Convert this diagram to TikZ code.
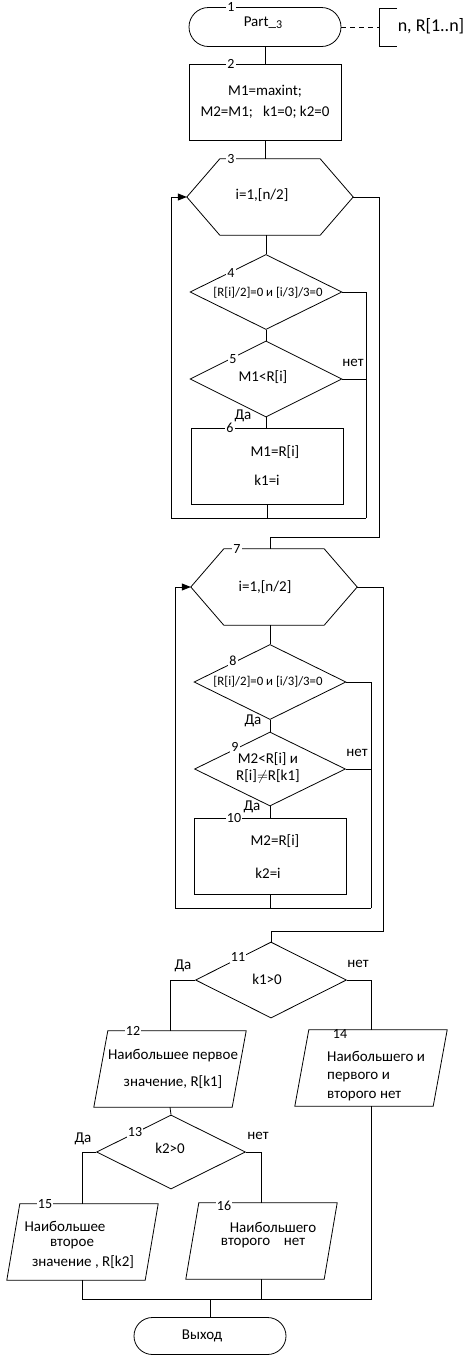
\documentclass[tikz,border=0pt]{standalone}
\usepackage{fontspec}
\setmainfont{Carlito}
\usetikzlibrary{shapes.geometric,shapes.misc,arrows.meta}
\begin{document}
\begin{tikzpicture}[x=1pt,y=-1pt,
  ln/.style={line width=0.8pt},
  shp/.style={draw, line width=0.8pt, inner sep=0pt},
  term/.style={shp, rounded rectangle, minimum width=152pt, minimum height=39pt},
  proc/.style={shp, rectangle, minimum width=152pt, minimum height=76pt},
  dec/.style={shp, diamond, minimum width=152pt, minimum height=75pt},
  helper/.style={inner sep=0pt, minimum width=166pt, minimum height=76pt},
  pbox/.style={inner sep=0pt, minimum width=152pt, minimum height=76pt},
  num/.style={fill=white, inner sep=1pt, font=\fontsize{14}{14}\selectfont},
  txt/.style={inner sep=0pt, font=\fontsize{15}{18}\selectfont},
  small/.style={inner sep=0pt, font=\fontsize{12.8}{14}\selectfont},
  arr/.style={line width=0.8pt, -{Triangle[length=9pt,width=7pt]}}
]
\useasboundingbox (0,0) rectangle (473,1369);

% ---- block 1: start
\node[term] (t1) at (265,27) {};
\node[txt] (t1t) at (263,23) {Part\_\raisebox{-2pt}{\fontsize{12}{12}\selectfont 3}};
\node[num] (n1) at (231,7) {1};
\coordinate (brk) at (379,27);
\draw[ln] (397,8) -- (379,8) -- (379,46) -- (397,46);
\draw[ln, dash pattern=on 5pt off 4pt] (t1.east) -- (brk);
\node[txt, font=\fontsize{18}{18}\selectfont] (io) at (431,26) {n, R[1..n]};

% ---- block 2
\node[proc, align=center, font=\fontsize{15}{21}\selectfont] (b2) at (265,102) {M1=maxint;\\ M2=M1;~~~k1=0; k2=0};
\node[num] (n2) at (231,64) {2};
\draw[ln] (t1.south) -- (b2.north);

% ---- loop 1
\node[helper] (h3) at (270,197) {};
\draw[ln] (h3.west) -- ([xshift=33pt]h3.north west) -- ([xshift=-33pt]h3.north east) -- (h3.east) -- ([xshift=-33pt]h3.south east) -- ([xshift=33pt]h3.south west) -- cycle;
\node[txt] (h3t) at (262,195) {i=1,[n/2]};
\node[num] (n3) at (231,159) {3};
\draw[ln] (b2.south) -- (b2.south |- h3.north);

\node[dec] (d4) at (266,292) {};
\node[small] (d4t) at (268,293) {[R[i]/2]=0 и [i/3]/3=0};
\node[num] (n4) at (231,273) {4};
\draw[ln] (d4.north |- h3.south) -- (d4.north);

\node[dec, minimum height=76pt] (d5) at (266,379) {};
\node[txt] (d5t) at (263,377) {M1<R[i]};
\node[num] (n5) at (233,359) {5};
\draw[ln] (d4.south) -- (d5.north);
\node[txt] (no5) at (353,363) {нет};
\node[txt] (yes5) at (243,416) {Да};

\node[proc] (r6) at (267,466) {};
\node[txt] (r6a) at (275,452) {M1=R[i]};
\node[txt] (r6b) at (267,480) {k1=i};
\node[num] (n6) at (230,428) {6};
\draw[ln] (d5.south) -- (d5.south |- r6.north);

\coordinate (a1) at (171,518);
\coordinate (bb1) at (366,518);
\coordinate (c1) at (379,537);
\draw[ln] (r6.south) -- (r6.south |- a1);
\draw[ln] (a1) -- (bb1);
\draw[arr] (a1) |- (h3.west);
\draw[ln] (d4.east) -| (bb1);
\draw[ln] (d5.east) -- (d5.east -| bb1);

% ---- loop 2
\node[helper] (h7) at (274,587) {};
\draw[ln] (h7.west) -- ([xshift=33pt]h7.north west) -- ([xshift=-33pt]h7.north east) -- (h7.east) -- ([xshift=-33pt]h7.south east) -- ([xshift=33pt]h7.south west) -- cycle;
\node[txt] (h7t) at (265,587) {i=1,[n/2]};
\node[num] (n7) at (237,549) {7};

\node[dec] (d8) at (270,682) {};
\node[small] (d8t) at (268,682) {[R[i]/2]=0 и [i/3]/3=0};
\node[num] (n8) at (233,661) {8};
\draw[ln] (d8.north |- h7.south) -- (d8.north);
\draw[ln] (h3.east) -| (c1) -| (d8.north |- h7.north);
\node[txt] (yes8) at (253,721) {Да};

\node[dec, minimum width=151pt, minimum height=74pt] (d9) at (270,769) {};
\node[txt, align=center, font=\fontsize{15}{17}\selectfont] (d9t) at (268,768) {M2<R[i] и\\ R[i]$\neq$R[k1]};
\node[num] (n9) at (235,747) {9};
\draw[ln] (d8.south) -- (d9.north);
\node[txt] (no9) at (357,753) {нет};
\node[txt] (yes9) at (252,807) {Да};

\node[proc] (r10) at (270,856) {};
\node[txt] (r10a) at (275,841) {M2=R[i]};
\node[txt] (r10b) at (268,873) {k2=i};
\node[num] (n10) at (234,818) {10};
\draw[ln] (d9.south) -- (r10.north);

\coordinate (a2) at (175,908);
\coordinate (bb2) at (371,908);
\coordinate (c2) at (383,931);
\draw[ln] (r10.south) -- (r10.south |- a2);
\draw[ln] (a2) -- (bb2);
\draw[arr] (a2) |- (h7.west);
\draw[ln] (d8.east) -| (bb2);
\draw[ln] (d9.east) -- (d9.east -| bb2);

% ---- decision 11
\node[dec, minimum width=151pt, minimum height=76pt] (d11) at (271,980) {};
\node[txt] (d11t) at (267,979) {k1>0};
\node[num] (n11) at (238,957) {11};
\draw[ln] (h7.east) -| (c2) -| (d11.north);
\node[txt] (yes11) at (183,966) {Да};
\node[txt] (no11) at (358,964) {нет};

% ---- output 12
\node[pbox] (p12) at (170,1069) {};
\draw[ln] ([xshift=14pt]p12.north west) -- (p12.north east) -- ([xshift=-14pt]p12.south east) -- (p12.south west) -- cycle;
\node[txt] (p12a) at (173,1056) {Наибольшее первое};
\node[txt] (p12b) at (173,1082) {значение, R[k1]};
\node[num] (n12) at (133,1031) {12};
\draw[ln] (d11.west) -| (p12.north);

% ---- output 14
\node[pbox] (p14) at (371,1068) {};
\draw[ln] ([xshift=14pt]p14.north west) -- (p14.north east) -- ([xshift=-14pt]p14.south east) -- (p14.south west) -- cycle;
\node[txt, anchor=west, align=left, font=\fontsize{15}{18.5}\selectfont] (p14t) at (327,1076) {Наибольшего и\\ первого и\\ второго нет};
\node[num, fill=none] (n14) at (340,1034) {14};
\draw[ln] (d11.east) -| (p14.north);

% ---- decision 13
\node[dec, minimum width=149pt, minimum height=74pt] (d13) at (171,1152) {};
\node[txt] (d13t) at (170,1148) {k2>0};
\node[num] (n13) at (135,1132) {13};
\draw[ln] (p12.south) -- (d13.north);
\node[txt] (yes13) at (83,1139) {Да};
\node[txt] (no13) at (258,1136) {нет};

% ---- output 15
\node[pbox, minimum width=151pt] (p15) at (82.5,1242) {};
\draw[ln] ([xshift=13pt]p15.north west) -- (p15.north east) -- ([xshift=-13pt]p15.south east) -- (p15.south west) -- cycle;
\node[txt] (p15a) at (65,1226) {Наибольшее};
\node[txt] (p15b) at (72,1244) {второе};
\node[txt] (p15c) at (83,1262) {значение , R[k2]};
\node[num] (n15) at (45,1204) {15};
\draw[ln] (d13.west) -| (p15.north);

% ---- output 16
\node[pbox, minimum width=151pt] (p16) at (261.5,1241) {};
\draw[ln] ([xshift=13pt]p16.north west) -- (p16.north east) -- ([xshift=-13pt]p16.south east) -- (p16.south west) -- cycle;
\node[txt] (p16a) at (273,1227) {Наибольшего};
\node[txt] (p16b) at (263,1243) {второго~~~~нет};
\node[num] (n16) at (224,1206) {16};
\draw[ln] (d13.east) -| (p16.north);

% ---- end
\node[term, minimum height=37pt] (t17) at (210,1336) {};
\node[txt] (t17t) at (202,1336) {Выход};
\coordinate (j) at (210,1299);
\draw[ln] (p15.south) -- (p15.south |- j) -- (p14.south |- j) -- (p14.south);
\draw[ln] (p16.south) -- (p16.south |- j);
\draw[ln] (j) -- (t17.north);
\end{tikzpicture}
\end{document}
